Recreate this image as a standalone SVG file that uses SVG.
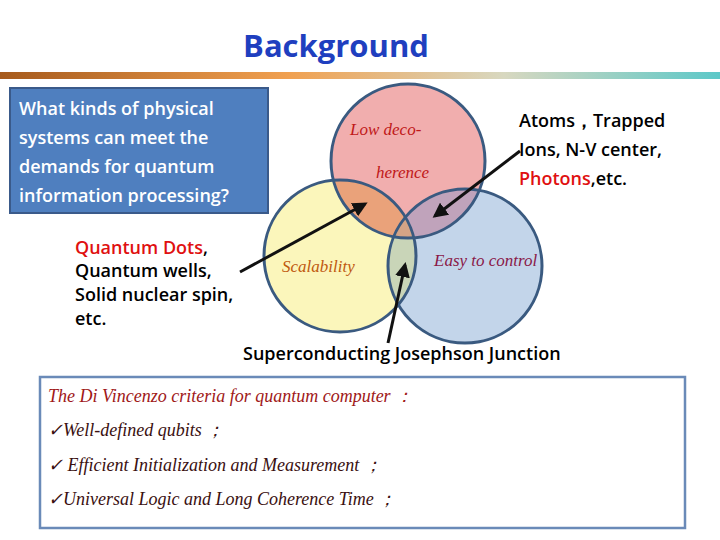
<svg xmlns="http://www.w3.org/2000/svg" width="720" height="540" viewBox="0 0 720 540">
<defs>
<linearGradient id="bar" x1="0" x2="1" y1="0" y2="0">
<stop offset="0" stop-color="#a65a1c"/><stop offset="0.4" stop-color="#f0a050"/><stop offset="0.7" stop-color="#d8d8c0"/><stop offset="1" stop-color="#5cc8c8"/>
</linearGradient>
<marker id="ah" viewBox="0 0 10 10" refX="8" refY="5" markerWidth="5" markerHeight="5" orient="auto"><path d="M0,0L10,5L0,10z" fill="#111"/></marker>
</defs>
<style>
.c{stroke:#3a5a80;stroke-width:3}
.b{font-family:"Open Sans","DejaVu Sans",sans-serif;font-size:18px;font-weight:600;fill:#000}
.s{font-family:"Liberation Serif",serif;font-style:italic;font-size:17px}
.a{stroke:#111;stroke-width:3;fill:none;marker-end:url(#ah)}
.d{font-family:"Liberation Serif",serif;font-style:italic;font-size:18px}
</style>
<rect width="720" height="540" fill="#fff"/>
<text x="336" y="57" text-anchor="middle" font-family="Open Sans,DejaVu Sans,sans-serif" font-weight="bold" font-size="31" fill="#1f3fbf">Background</text>
<rect x="0" y="72" width="720" height="7" fill="url(#bar)"/>
<g id="question">
<rect x="10" y="88" width="258" height="125" fill="#4f7fbf" stroke="#3a5a8a" stroke-width="2"/>
<text class="b" style="fill:#fff"><tspan x="19" y="115">What kinds of physical</tspan><tspan x="19" y="144">systems can meet the</tspan><tspan x="19" y="173">demands for quantum</tspan><tspan x="19" y="202">information processing?</tspan></text>
</g>
<g id="venn">
<circle cx="340" cy="256" r="76" fill="#fbf6bb"/>
<circle cx="465" cy="266" r="77" fill="#c3d5ea"/>
<circle cx="408" cy="161" r="77" fill="#f1aeae"/>
<clipPath id="cr"><circle cx="408" cy="161" r="77"/></clipPath>
<clipPath id="cy"><circle cx="340" cy="256" r="76"/></clipPath>
<circle cx="340" cy="256" r="76" fill="#eaa27a" clip-path="url(#cr)"/>
<circle cx="465" cy="266" r="77" fill="#c0a3bb" clip-path="url(#cr)"/>
<circle cx="465" cy="266" r="77" fill="#c9d5b8" clip-path="url(#cy)"/>
<g clip-path="url(#cr)"><circle cx="465" cy="266" r="77" fill="#d4a486" clip-path="url(#cy)"/></g>
<circle cx="340" cy="256" r="76" fill="none" class="c"/>
<circle cx="465" cy="266" r="77" fill="none" class="c"/>
<circle cx="408" cy="161" r="77" fill="none" class="c"/>
<text class="s" x="350" y="135" fill="#c01818">Low deco-</text>
<text class="s" x="376" y="178" fill="#c01818">herence</text>
<text class="s" x="282" y="272" fill="#c05a10">Scalability</text>
<text class="s" x="434" y="266" fill="#8a1848">Easy to control</text>
</g>
<g id="labels">
<text class="b"><tspan x="75" y="254" fill="#e01010">Quantum Dots</tspan><tspan>,</tspan><tspan x="75" y="277">Quantum wells,</tspan><tspan x="75" y="301">Solid nuclear spin,</tspan><tspan x="75" y="325">etc.</tspan></text>
<text class="b"><tspan x="519" y="127">Atoms，Trapped</tspan><tspan x="519" y="156">Ions, N-V center,</tspan><tspan x="519" y="185" fill="#e01010">Photons</tspan><tspan>,etc.</tspan></text>
<text class="b" x="243" y="360">Superconducting Josephson Junction</text>
</g>
<g id="connectors">
<line class="a" x1="240" y1="272" x2="365" y2="204"/>
<line class="a" x1="520" y1="151" x2="435" y2="216"/>
<line class="a" x1="388" y1="343" x2="405" y2="265"/>
</g>
<g id="criteria">
<rect x="40" y="377" width="645" height="151" fill="#fff" stroke="#6a8ab8" stroke-width="2.5"/>
<text class="d" fill="#a01818" x="48" y="402">The Di Vincenzo criteria for quantum computer ：</text>
<text class="d" fill="#3a1010">
<tspan x="48" y="436">✓Well-defined qubits ；</tspan>
<tspan x="48" y="471">✓ Efficient Initialization and Measurement ；</tspan>
<tspan x="48" y="505">✓Universal Logic and  Long Coherence Time ；</tspan></text>
</g>
</svg>
